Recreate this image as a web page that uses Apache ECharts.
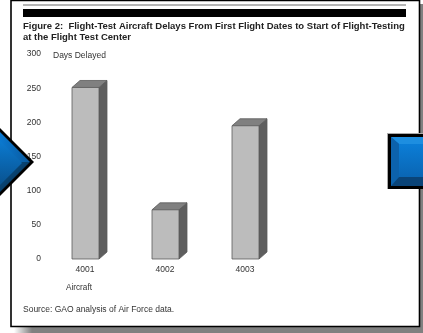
<!DOCTYPE html>
<html>
<head>
<meta charset="utf-8">
<style>html,body{margin:0;padding:0;background:#fff}#chart{width:423px;height:333px}</style>
<script src="https://cdn.jsdelivr.net/npm/echarts@6/dist/echarts.min.js"></script>
</head>
<body>
<div id="chart"></div>
<script>
// Days between first flight and arrival at the test center, per aircraft
const aircraft = ['4001', '4002', '4003'];
const daysDelayed = [251, 72, 195];
const yTicks = { min: 0, max: 300, interval: 50 };

const titleLines = [
  'Figure 2:  Flight-Test Aircraft Delays From First Flight Dates to Start of Flight-Testing',
  'at the Flight Test Center'
];
const sourceNote = 'Source: GAO analysis of Air Force data.';
const FONT = '"Liberation Sans", Arial, sans-serif';

// Extruded column: front face plus top and side faces offset up and to the right
function renderColumn(params, api) {
  const base = api.coord([api.value(0), 0]);
  const top = api.coord([api.value(0), api.value(1)]);
  const w = 27, dx = 8, dy = 7;
  const l = Math.round(base[0] - w / 2), r = l + w, t = top[1], b = base[1];
  const edge = { stroke: '#5a5a5a', lineWidth: 0.8 };
  return {
    type: 'group',
    children: [
      { type: 'polygon', shape: { points: [[r, t], [r + dx, t - dy], [r + dx, b - dy], [r, b]] },
        style: Object.assign({ fill: '#5e5e5e' }, edge) },
      { type: 'polygon', shape: { points: [[l, t], [l + dx, t - dy], [r + dx, t - dy], [r, t]] },
        style: Object.assign({ fill: '#808080' }, edge) },
      { type: 'rect', shape: { x: l, y: t, width: w, height: b - t },
        style: Object.assign({ fill: '#bcbcbc' }, edge) }
    ]
  };
}

const LG = (x, y, x2, y2, a, b) => new echarts.graphic.LinearGradient(x, y, x2, y2, [
  { offset: 0, color: a }, { offset: 1, color: b }
]);

const chart = echarts.init(document.getElementById('chart'), null, { renderer: 'canvas' });
chart.setOption({
  animation: false,
  backgroundColor: '#ffffff',
  grid: { left: 45, top: 54, width: 240, height: 205 },
  xAxis: {
    type: 'category',
    data: aircraft,
    axisLine: { show: false },
    axisTick: { show: false },
    axisLabel: { color: '#333', fontFamily: FONT, fontSize: 8.5, margin: 6 }
  },
  yAxis: {
    type: 'value',
    min: yTicks.min, max: yTicks.max, interval: yTicks.interval,
    name: 'Days Delayed',
    nameLocation: 'end',
    nameGap: -2,
    nameTextStyle: { color: '#333', fontFamily: FONT, fontSize: 8.5, align: 'left', verticalAlign: 'middle', padding: [0, 0, 0, 8] },
    splitLine: { show: false },
    axisLine: { show: false },
    axisTick: { show: false },
    axisLabel: { color: '#333', fontFamily: FONT, fontSize: 8.5, margin: 4 }
  },
  series: [{
    type: 'custom',
    renderItem: renderColumn,
    data: aircraft.map((a, i) => [i, daysDelayed[i]]),
    encode: { x: 0, y: 1 },
    clip: false
  }],
  graphic: [
    // drop shadow behind the page card
    { type: 'rect', z: 1, shape: { x: 420, y: 4, width: 3, height: 329 }, style: { fill: '#808080' } },
    { type: 'rect', z: 1, shape: { x: 14, y: 327, width: 18, height: 6 }, style: { fill: LG(0, 0, 1, 0, '#ffffff', '#808080') } },
    { type: 'rect', z: 1, shape: { x: 32, y: 327, width: 391, height: 6 }, style: { fill: '#808080' } },
    // page card outline
    { type: 'rect', z: 2, shape: { x: 11, y: 0.5, width: 408.5, height: 326 }, style: { fill: 'transparent', stroke: '#000', lineWidth: 1.6 } },
    // heading rules
    { type: 'rect', z: 3, shape: { x: 23, y: 4, width: 383, height: 2 }, style: { fill: '#b5b5b5' } },
    { type: 'rect', z: 3, shape: { x: 23, y: 9, width: 383, height: 8 }, style: { fill: '#000' } },
    // heading and notes
    { type: 'text', z: 3, x: 23, y: 26, style: { text: titleLines[0], fill: '#222', font: 'bold 9.5px ' + FONT, textVerticalAlign: 'middle' } },
    { type: 'text', z: 3, x: 23, y: 37.5, style: { text: titleLines[1], fill: '#222', font: 'bold 9.5px ' + FONT, textVerticalAlign: 'middle' } },
    { type: 'text', z: 3, x: 66, y: 288, style: { text: 'Aircraft', fill: '#333', font: '8.2px ' + FONT, textVerticalAlign: 'middle' } },
    { type: 'text', z: 3, x: 23, y: 310, style: { text: sourceNote, fill: '#333', font: '8.5px ' + FONT, textVerticalAlign: 'middle' } },
    // left navigation arrow
    { type: 'polygon', z: 10, shape: { points: [[0, 128], [34, 162], [0, 196]] }, style: { fill: '#000' } },
    { type: 'polygon', z: 11, shape: { points: [[0, 132], [30, 162], [0, 162]] }, style: { fill: LG(0, 0, 1, 0, '#0a78d0', '#0a5a9e') } },
    { type: 'polygon', z: 11, shape: { points: [[0, 162], [30, 162], [0, 192]] }, style: { fill: LG(0, 0, 1, 1, '#0a558f', '#052845') } },
    { type: 'polygon', z: 12, shape: { points: [[0, 141], [22, 163], [0, 185]] }, style: { fill: LG(0, 0, 0, 1, '#0b7ad0', '#09528f') } },
    // right navigation button
    { type: 'rect', z: 10, shape: { x: 388, y: 134, width: 35, height: 55 }, style: { fill: '#000' } },
    { type: 'rect', z: 9, shape: { x: 387, y: 133, width: 36, height: 1 }, style: { fill: '#aaa' } },
    { type: 'rect', z: 9, shape: { x: 387, y: 133, width: 1, height: 56 }, style: { fill: '#aaa' } },
    { type: 'rect', z: 11, shape: { x: 391, y: 137, width: 32, height: 49 }, style: { fill: '#0a6cbe' } },
    { type: 'polygon', z: 12, shape: { points: [[391, 137], [423, 137], [423, 144], [399, 144]] }, style: { fill: '#1d8ee0' } },
    { type: 'polygon', z: 12, shape: { points: [[391, 137], [399, 144], [399, 177], [391, 186]] }, style: { fill: '#0c62ac' } },
    { type: 'polygon', z: 12, shape: { points: [[391, 186], [399, 177], [423, 177], [423, 186]] }, style: { fill: '#0a4478' } },
    { type: 'rect', z: 12, shape: { x: 399, y: 144, width: 24, height: 33 }, style: { fill: LG(0, 0, 0, 1, '#0b7dd6', '#0a66b4') } }
  ]
});
</script>
</body>
</html>
